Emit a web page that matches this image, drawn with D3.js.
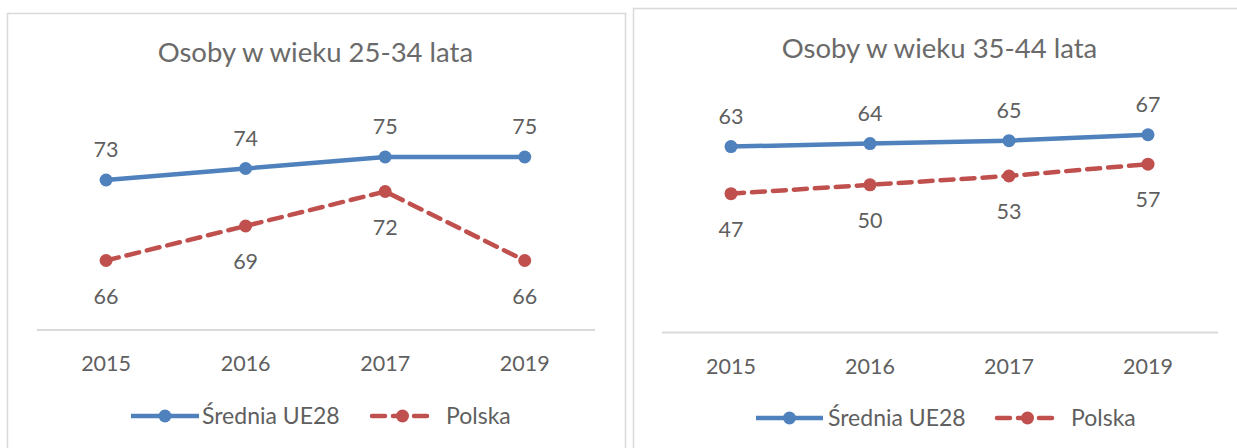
<!DOCTYPE html>
<html><head><meta charset="utf-8">
<script src="https://cdn.jsdelivr.net/npm/d3@7"></script>
<style>
html,body{margin:0;padding:0;background:#fff;}
svg{display:block;font-family:Lato,"Open Sans",sans-serif;}
</style></head>
<body>
<svg id="chart" width="1237" height="448"></svg>
<script>
const categories = ["2015","2016","2017","2019"];
const seriesNames = ["Średnia UE28","Polska"];
const titles = ["Osoby w wieku 25-34 lata","Osoby w wieku 35-44 lata"];
const ue28_25_34 = [73,74,75,75];
const polska_25_34 = [66,69,72,66];
const ue28_35_44 = [63,64,65,67];
const polska_35_44 = [47,50,53,57];
const yDomain_25_34 = [60,76];
const yDomain_35_44 = [0,80];

const BLUE = "#4F81BD", RED = "#C0504D", TXT = "#5f5f5f", TITLE = "#6a6a6a", GRID = "#D9D9D9";
const svg = d3.select("#chart");

const panels = [
  {box:{x:7.5,y:13.5,w:618,h:450}, title:titles[0], titleY:62,
   x0:36.3, x1:594.5, yTop:145.5, yBot:329.5, dom:yDomain_25_34,
   s:[ue28_25_34, polska_25_34], tickY:371, legY:416,
   leg:[{x0:131,x1:199,tx:202},{x0:372,x1:433,tx:446}]},
  {box:{x:633.5,y:8.5,w:620,h:450}, title:titles[1], titleY:58,
   x0:661.5, x1:1217.5, yTop:96.5, yBot:332, dom:yDomain_35_44,
   s:[ue28_35_44, polska_35_44], tickY:374, legY:418,
   leg:[{x0:756,x1:823,tx:828},{x0:997,x1:1058,tx:1071}]}
];

const colors = [BLUE, RED];
const dashes = [null, "13,8"];

panels.forEach(p => {
  const g = svg.append("g");
  g.append("rect").attr("x",p.box.x).attr("y",p.box.y).attr("width",p.box.w).attr("height",p.box.h)
    .attr("fill","#fff").attr("stroke",GRID).attr("stroke-width",1.5);
  g.append("text").attr("x",(p.x0+p.x1)/2).attr("y",p.titleY).attr("text-anchor","middle")
    .attr("fill",TITLE).attr("font-size",27.5).text(p.title);

  const x = d3.scaleBand().domain(categories).range([p.x0,p.x1]);
  const y = d3.scaleLinear().domain(p.dom).range([p.yBot,p.yTop]);

  const ax = g.append("g").attr("transform",`translate(0,${p.yBot})`)
    .call(d3.axisBottom(x).tickSize(0).tickPadding(0));
  ax.select(".domain").attr("stroke",GRID).attr("stroke-width",2);
  ax.selectAll(".tick text").attr("y",p.tickY-p.yBot).attr("dy",0)
    .attr("fill",TXT).attr("font-size",21.5).attr("font-family","Lato");

  p.s.forEach((vals,i) => {
    const pts = vals.map((v,j)=>({c:categories[j],v}));
    const line = d3.line().x(d=>x(d.c)+x.bandwidth()/2).y(d=>y(d.v));
    g.append("path").datum(pts).attr("d",line).attr("fill","none")
      .attr("stroke",colors[i]).attr("stroke-width",4.5)
      .attr("stroke-dasharray",dashes[i]).attr("stroke-linecap", i? "round":"butt");
    g.selectAll(null).data(pts).enter().append("circle")
      .attr("cx",d=>x(d.c)+x.bandwidth()/2).attr("cy",d=>y(d.v)).attr("r",6.5).attr("fill",colors[i]);
    g.selectAll(null).data(pts).enter().append("text")
      .attr("x",d=>x(d.c)+x.bandwidth()/2).attr("y",d=>y(d.v)+(i===0?-23:43))
      .attr("text-anchor","middle").attr("fill",TXT).attr("font-size",21.5).text(d=>d.v);
  });

  p.leg.forEach((l,i)=>{
    g.append("line").attr("x1",l.x0).attr("x2",l.x1).attr("y1",p.legY).attr("y2",p.legY)
      .attr("stroke",colors[i]).attr("stroke-width",4.5).attr("stroke-dasharray",dashes[i])
      .attr("stroke-linecap", i? "round":"butt");
    g.append("circle").attr("cx",(l.x0+l.x1)/2).attr("cy",p.legY).attr("r",6.5).attr("fill",colors[i]);
    g.append("text").attr("x",l.tx).attr("y",p.legY+8).attr("fill",TXT).attr("font-size",23).text(seriesNames[i]);
  });
});
</script>
</body></html>
